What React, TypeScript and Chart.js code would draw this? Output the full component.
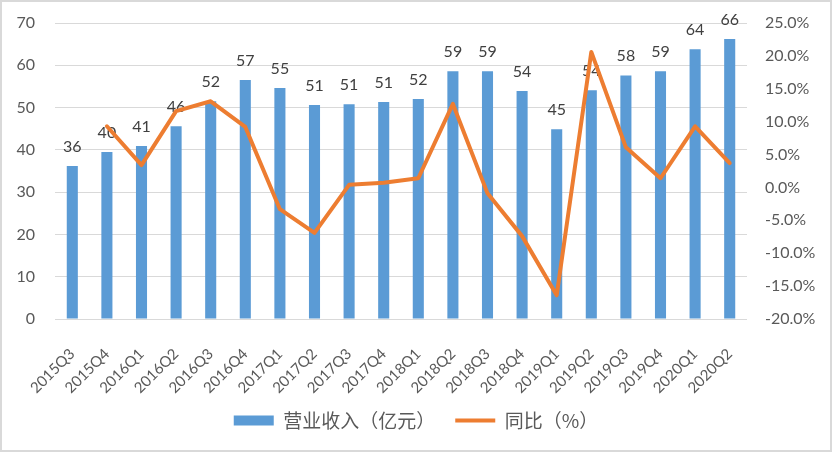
import React, { useEffect, useRef } from "react";
import { Chart, registerables } from "chart.js";

Chart.register(...registerables);

const categories = [
  "2015Q3", "2015Q4", "2016Q1", "2016Q2", "2016Q3", "2016Q4", "2017Q1", "2017Q2",
  "2017Q3", "2017Q4", "2018Q1", "2018Q2", "2018Q3", "2018Q4", "2019Q1", "2019Q2",
  "2019Q3", "2019Q4", "2020Q1", "2020Q2",
];
const revenue = [
  36.2, 39.5, 40.9, 45.6, 51.5, 56.5, 54.6, 50.6, 50.8, 51.3,
  52.0, 58.6, 58.6, 53.9, 44.9, 54.1, 57.6, 58.6, 63.8, 66.2,
];
const yoy = [
  null, 9.3, 3.4, 11.6, 13.1, 9.2, -3.3, -6.9, 0.4, 0.7,
  1.4, 12.7, -0.9, -7.4, -16.4, 20.6, 6.1, 1.4, 9.3, 3.7,
];
const leftTicks = { min: 0, max: 70, step: 10 };
const rightTicks = { min: -20, max: 25, step: 5 };
const seriesNames = ["营业收入（亿元）", "同比（%）"];

const BLUE = "#5B9BD5";
const ORANGE = "#ED7D31";
const GRID = "#D9D9D9";
const TEXT = "#595959";
const FONT = "Lato, 'Noto Sans CJK SC', sans-serif";
const CJK = "'Noto Sans CJK SC', sans-serif";

const barLabels = {
  id: "barLabels",
  afterDatasetDraw(chart: any, args: any) {
    if (args.index !== 0) return;
    const ctx = chart.ctx;
    ctx.save();
    ctx.font = `16px ${FONT}`;
    ctx.fillStyle = "#404040";
    ctx.textAlign = "center";
    ctx.textBaseline = "alphabetic";
    args.meta.data.forEach((bar: any, i: number) => {
      ctx.fillText(String(Math.round(revenue[i])), bar.x, bar.y - 14);
    });
    ctx.restore();
  },
};

export default function App() {
  const ref = useRef<HTMLCanvasElement>(null);
  useEffect(() => {
    if (!ref.current) return;
    const chart = new Chart(ref.current, {
      type: "bar",
      data: {
        labels: categories,
        datasets: [
          {
            type: "bar",
            label: seriesNames[0],
            data: revenue,
            backgroundColor: BLUE,
            borderWidth: 0,
            barPercentage: 0.32,
            categoryPercentage: 1,
            yAxisID: "y",
            order: 2,
          },
          {
            type: "line",
            label: seriesNames[1],
            data: yoy as any,
            borderColor: ORANGE,
            backgroundColor: ORANGE,
            borderWidth: 4,
            pointRadius: 0,
            tension: 0,
            borderJoinStyle: "round",
            borderCapStyle: "round",
            yAxisID: "y1",
            order: 1,
          } as any,
        ],
      },
      plugins: [barLabels],
      options: {
        responsive: false,
        animation: false,
        devicePixelRatio: 1,
        layout: { padding: { top: 21, left: 0, right: 0, bottom: 10 } },
        plugins: {
          tooltip: { enabled: false },
          legend: {
            position: "bottom",
            labels: {
              usePointStyle: true,
              pointStyleWidth: 40,
              boxHeight: 10,
              padding: 20,
              color: TEXT,
              font: { size: 19, family: CJK },
              sort: (a: any, b: any) => a.datasetIndex - b.datasetIndex,
              generateLabels: (c: any) =>
                c.data.datasets.map((d: any, i: number) => ({
                  text: d.label,
                  fillStyle: i === 0 ? BLUE : ORANGE,
                  strokeStyle: i === 0 ? BLUE : ORANGE,
                  lineWidth: i === 0 ? 0 : 4,
                  pointStyle: i === 0 ? "rect" : "line",
                  fontColor: TEXT,
                  hidden: false,
                  datasetIndex: i,
                })),
            },
          },
        },
        scales: {
          x: {
            grid: { display: false },
            border: { display: false },
            ticks: {
              autoSkip: false,
              minRotation: 45,
              maxRotation: 45,
              padding: 18,
              color: TEXT,
              font: { size: 15, family: FONT },
            },
            afterFit: (s: any) => {
              s.height = 72;
              s.paddingLeft = 0;
              s.paddingRight = 0;
              s._computeLabelArea = () => undefined;
            },
          },
          y: {
            position: "left",
            min: leftTicks.min,
            max: leftTicks.max,
            grid: { color: GRID, lineWidth: 1, drawTicks: false },
            border: { display: false },
            ticks: {
              stepSize: leftTicks.step,
              padding: 20,
              color: TEXT,
              font: { size: 16, family: FONT },
            },
            afterFit: (s: any) => {
              s.width = 53;
              s.paddingTop = 0;
              s.paddingBottom = 0;
            },
          },
          y1: {
            position: "right",
            min: rightTicks.min,
            max: rightTicks.max,
            grid: { display: false, drawTicks: false },
            border: { display: false },
            ticks: {
              stepSize: rightTicks.step,
              padding: 18,
              color: TEXT,
              font: { size: 16, family: FONT },
              callback: (v: any) => Number(v).toFixed(1) + "%",
            },
            afterFit: (s: any) => {
              s.width = 83;
              s.paddingTop = 0;
              s.paddingBottom = 0;
            },
          },
        },
      } as any,
    });
    return () => chart.destroy();
  }, []);

  return (
    <div
      style={{
        position: "absolute",
        left: 0,
        top: 0,
        width: 832,
        height: 452,
        boxSizing: "border-box",
        border: "2px solid #D9D9D9",
        background: "#fff",
      }}
    >
      <canvas ref={ref} width={828} height={448} style={{ display: "block", width: 828, height: 448 }} />
    </div>
  );
}
